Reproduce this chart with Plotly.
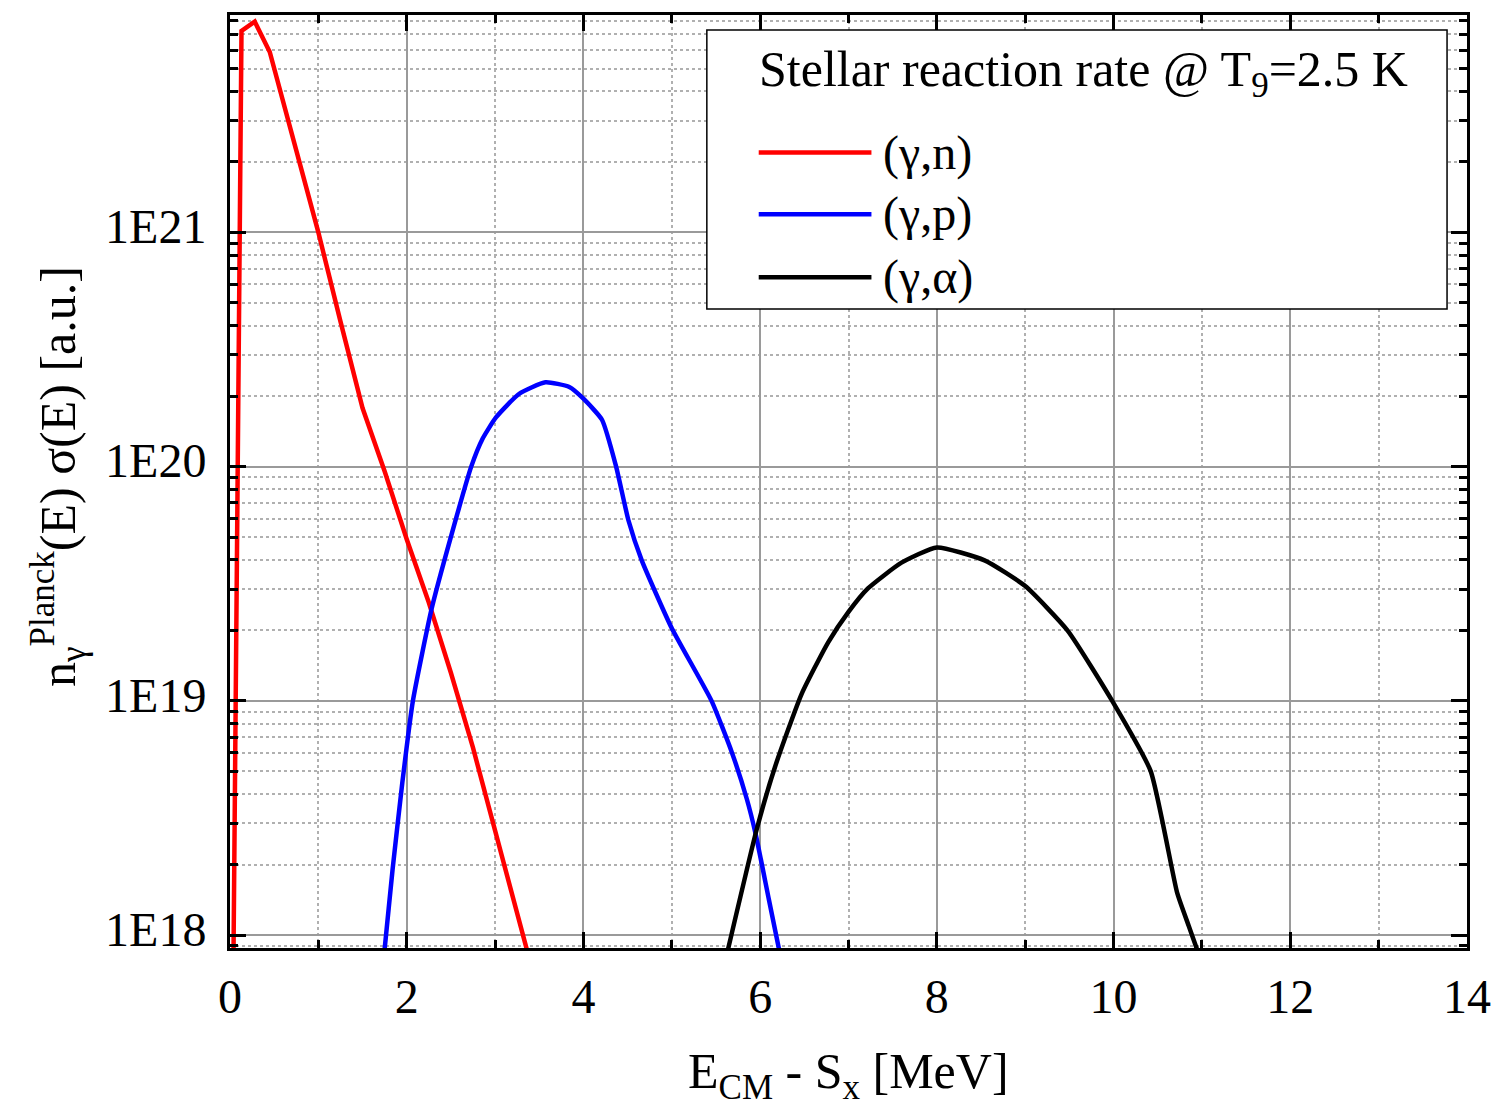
import plotly.graph_objects as go

# ---- data ----
gn_x = [0.03, 0.13, 0.28, 0.45, 0.75, 1.0, 1.25, 1.5, 1.75, 2.0, 2.25, 2.5, 2.75, 3.0, 3.25, 3.5]
gn_logy = [17.5, 21.86, 21.90, 21.77, 21.35, 21.0, 20.62, 20.25, 19.98, 19.69, 19.42, 19.12, 18.80, 18.44, 18.09, 17.74]

gp_x = [1.71, 1.75, 1.84, 1.95, 2.07, 2.28, 2.5, 2.73, 2.86, 3.01, 3.27, 3.57, 3.84, 4.0, 4.21,
        4.37, 4.51, 4.66, 5.0, 5.45, 5.68, 5.85, 5.95, 6.1, 6.3]
gp_logy = [17.8, 17.94, 18.28, 18.65, 19.0, 19.39, 19.70, 20.0, 20.12, 20.21, 20.31, 20.36, 20.34, 20.29, 20.20,
           20.0, 19.77, 19.60, 19.31, 19.0, 18.78, 18.58, 18.43, 18.15, 17.78]

ga_x = [5.55, 5.96, 6.17, 6.47, 6.77, 7.0, 7.22, 7.6, 8.0, 8.54, 9.0, 9.48, 10.0, 10.42, 10.72, 10.85, 11.0]
ga_logy = [17.8, 18.45, 18.72, 19.03, 19.25, 19.38, 19.48, 19.59, 19.655, 19.60, 19.49, 19.30, 18.99, 18.70, 18.18, 18.04, 17.88]

series_names = ["(γ,n)", "(γ,p)", "(γ,α)"]
series_colors = ["#ff0000", "#0000ff", "#000000"]
series_shapes = ["linear", "spline", "spline"]

x_ticks = [0, 2, 4, 6, 8, 10, 12, 14]
x_minor = [1, 3, 5, 7, 9, 11, 13]
y_ticks = [1e18, 1e19, 1e20, 1e21]
y_ticktext = ["1E18", "1E19", "1E20", "1E21"]
y_minor = [float(m) * 10.0 ** e for e in (17, 18, 19, 20, 21) for m in range(2, 10)]

FONT = "Liberation Serif"

fig = go.Figure()
for xs, ly, name, col, shp in zip([gn_x, gp_x, ga_x], [gn_logy, gp_logy, ga_logy],
                                  series_names, series_colors, series_shapes):
    fig.add_trace(go.Scatter(x=xs, y=[10.0 ** v for v in ly], mode="lines", name=name,
                             line=dict(color=col, width=4.5, shape=shp, smoothing=0.5),
                             showlegend=False))

L, R, T, B = 230, 33, 12, 172
W, H = 1503, 1120
pw, ph = W - L - R, H - T - B


def px(xp):
    return (xp - L) / pw


def py(yp):
    return (H - B - yp) / ph


fig.update_layout(
    width=W, height=H,
    margin=dict(l=L, r=R, t=T, b=B),
    paper_bgcolor="white", plot_bgcolor="white",
    font=dict(family=FONT, size=48, color="black"),
    showlegend=False,
)
fig.update_xaxes(
    range=[0, 14], tickvals=x_ticks, ticks="inside", ticklen=16, tickwidth=3, tickcolor="black",
    showline=True, linewidth=3, linecolor="black", mirror="allticks",
    showgrid=True, gridcolor="#9a9a9a", gridwidth=1.5, zeroline=False,
    tickfont=dict(family=FONT, size=48), ticklabelstandoff=4,
    minor=dict(tickvals=x_minor, ticks="inside", ticklen=8, tickwidth=3, tickcolor="black",
               showgrid=True, gridcolor="#b0b0b0", griddash="dot", gridwidth=1.5),
)
fig.update_yaxes(
    type="log", range=[17.945, 21.928], tickmode="array", tickvals=y_ticks, ticktext=y_ticktext,
    ticks="inside", ticklen=16, tickwidth=3, tickcolor="black",
    showline=True, linewidth=3, linecolor="black", mirror="allticks",
    showgrid=True, gridcolor="#9a9a9a", gridwidth=1.5, zeroline=False,
    tickfont=dict(family=FONT, size=48), ticklabelstandoff=11, ticklabelshift=-6,
    minor=dict(tickvals=y_minor, ticks="inside", ticklen=8, tickwidth=3, tickcolor="black",
               showgrid=True, gridcolor="#b0b0b0", griddash="dot", gridwidth=1.5),
)

# axis titles
fig.add_annotation(xref="paper", yref="paper", x=0.5, y=py(1075), xanchor="center", yanchor="middle",
                   text="E<sub>CM</sub> - S<sub>x</sub> [MeV]", showarrow=False,
                   font=dict(family=FONT, size=50))
fig.add_annotation(xref="paper", yref="paper", x=px(58), y=py(475), xanchor="center", yanchor="middle",
                   textangle=-90, text="n<sub>γ</sub><sup>Planck</sup>(E) σ(E) [a.u.]", showarrow=False,
                   font=dict(family=FONT, size=50))

# custom legend box
fig.add_shape(type="rect", xref="paper", yref="paper", x0=px(708), x1=px(1450), y0=py(307), y1=py(27),
              line=dict(color="black", width=1.5), fillcolor="white", layer="above")
fig.add_annotation(xref="paper", yref="paper", x=px(758), y=py(70), xanchor="left", yanchor="middle",
                   text="Stellar reaction rate @ T<sub>9</sub>=2.5 K", showarrow=False,
                   font=dict(family=FONT, size=50))
for i, (name, col) in enumerate(zip(series_names, series_colors)):
    yy = [150, 212, 275][i]
    fig.add_shape(type="line", xref="paper", yref="paper", x0=px(760), x1=px(873), y0=py(yy), y1=py(yy),
                  line=dict(color=col, width=4.5), layer="above")
    fig.add_annotation(xref="paper", yref="paper", x=px(883), y=py(yy), xanchor="left", yanchor="middle",
                       text=name, showarrow=False, font=dict(family=FONT, size=48))

fig.write_html("out.html")
